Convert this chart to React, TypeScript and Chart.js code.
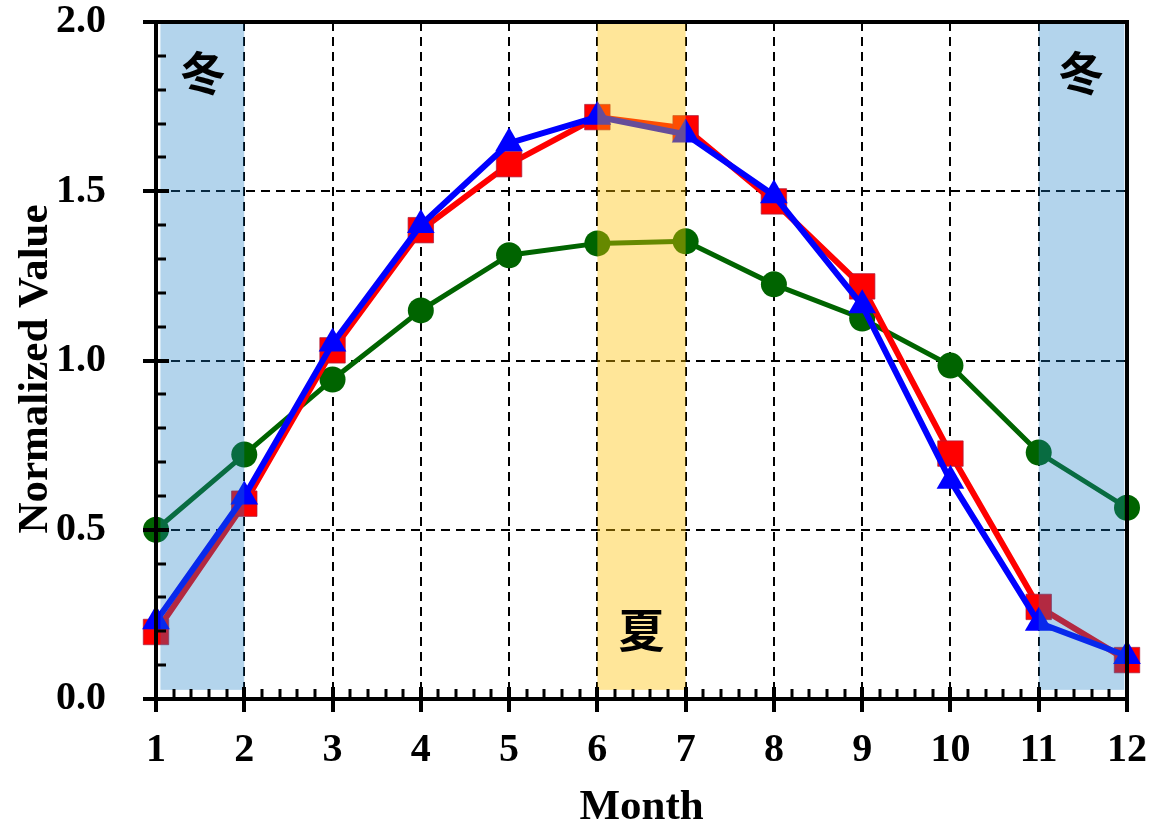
import React, { useEffect, useRef } from "react";
import { Chart, registerables } from "chart.js";

Chart.register(...registerables);

// Months on the x axis
const months: number[] = [1, 2, 3, 4, 5, 6, 7, 8, 9, 10, 11, 12];

// Normalized monthly values for the three series
const seriesRed: number[] = [0.198, 0.577, 1.03, 1.385, 1.58, 1.719, 1.686, 1.47, 1.219, 0.725, 0.272, 0.115];
const seriesBlue: number[] = [0.23, 0.598, 1.05, 1.4, 1.642, 1.72, 1.668, 1.488, 1.163, 0.645, 0.225, 0.127];
const seriesGreen: number[] = [0.5, 0.722, 0.944, 1.148, 1.311, 1.346, 1.352, 1.225, 1.124, 0.985, 0.728, 0.565];

// Axis ticks
const yTicks: number[] = [0, 0.5, 1.0, 1.5, 2.0];

// Seasonal bands
const seasonLabels: string[] = ["冬", "夏", "冬"];
const seasonStart: number[] = [1.05, 6, 11];
const seasonEnd: number[] = [2, 7, 11.97];
const seasonLabelX: number[] = [1.53, 6.5, 11.48];
const seasonLabelY: number[] = [1.852, 0.204, 1.852];
const seasonFill: string[] = ["rgba(24,123,197,0.33)", "rgba(255,192,0,0.4)", "rgba(24,123,197,0.33)"];

const xTitle = "Month";
const yTitle = "Normalized Value";

const serif = "'Liberation Serif', 'Times New Roman', serif";
const cjk = "'Noto Sans CJK SC', 'Noto Sans CJK JP', sans-serif";

const zeroPad = (s: any) => {
  s.paddingTop = 0;
  s.paddingBottom = 0;
  s.paddingLeft = 0;
  s.paddingRight = 0;
};

const framePlugin = {
  id: "frameAndBands",
  beforeDatasetsDraw(chart: any) {
    const { ctx, chartArea: a, scales } = chart;
    const xs = scales.x;
    const ys = scales.y;
    ctx.save();
    ctx.strokeStyle = "#000";
    ctx.lineWidth = 2;
    ctx.setLineDash([9, 6]);
    for (const m of months) {
      if (m === months[0] || m === months[months.length - 1]) continue;
      const px = Math.round(xs.getPixelForValue(m));
      ctx.beginPath();
      ctx.moveTo(px, a.top);
      ctx.lineTo(px, a.bottom);
      ctx.stroke();
    }
    for (const v of yTicks) {
      if (v === yTicks[0] || v === yTicks[yTicks.length - 1]) continue;
      const py = Math.round(ys.getPixelForValue(v));
      ctx.beginPath();
      ctx.moveTo(a.left, py);
      ctx.lineTo(a.right, py);
      ctx.stroke();
    }
    ctx.restore();
  },
  afterDatasetsDraw(chart: any) {
    const { ctx, chartArea: a, scales } = chart;
    const xs = scales.x;
    const ys = scales.y;
    ctx.save();
    // translucent season bands over the lines
    const yLow = ys.getPixelForValue(0.027);
    for (let i = 0; i < seasonLabels.length; i++) {
      const x0 = xs.getPixelForValue(seasonStart[i]);
      const x1 = xs.getPixelForValue(seasonEnd[i]);
      ctx.fillStyle = seasonFill[i];
      ctx.fillRect(x0, a.top, x1 - x0, yLow - a.top);
    }
    ctx.fillStyle = "#000";
    ctx.font = `bold 46px ${cjk}`;
    ctx.textAlign = "center";
    ctx.textBaseline = "middle";
    for (let i = 0; i < seasonLabels.length; i++) {
      ctx.fillText(seasonLabels[i], xs.getPixelForValue(seasonLabelX[i]), ys.getPixelForValue(seasonLabelY[i]));
    }

    // frame
    ctx.strokeStyle = "#000";
    ctx.lineWidth = 4;
    ctx.lineCap = "square";
    ctx.strokeRect(a.left, a.top, a.right - a.left, a.bottom - a.top);
    ctx.lineCap = "butt";

    // y ticks: minor inward, major across
    for (let k = 0; k <= 20; k++) {
      const v = k / 10;
      const py = Math.round(ys.getPixelForValue(v));
      const major = k % 5 === 0;
      ctx.lineWidth = major ? 4 : 3;
      ctx.beginPath();
      if (major) {
        ctx.moveTo(a.left - 13, py);
        ctx.lineTo(a.left + 13, py);
      } else {
        ctx.moveTo(a.left, py);
        ctx.lineTo(a.left + 10, py);
      }
      ctx.stroke();
    }
    // x ticks: minor every 0.2 month inward, major across
    for (let k = 0; k <= 55; k++) {
      const v = 1 + k / 5;
      const px = Math.round(xs.getPixelForValue(v));
      const major = k % 5 === 0;
      ctx.lineWidth = major ? 4 : 3;
      ctx.beginPath();
      if (major) {
        ctx.moveTo(px, a.bottom - 12);
        ctx.lineTo(px, a.bottom + 13);
      } else {
        ctx.moveTo(px, a.bottom);
        ctx.lineTo(px, a.bottom - 10);
      }
      ctx.stroke();
    }

    // axis titles
    ctx.fillStyle = "#000";
    ctx.font = `bold 43px ${serif}`;
    ctx.textAlign = "center";
    ctx.textBaseline = "alphabetic";
    ctx.fillText(xTitle, (a.left + a.right) / 2, 819);
    ctx.translate(47, 369);
    ctx.rotate(-Math.PI / 2);
    ctx.fillText(yTitle, 0, 0);
    ctx.restore();
  },
};

export default function App() {
  const ref = useRef<HTMLCanvasElement | null>(null);

  useEffect(() => {
    if (!ref.current) return;
    const pts = (vals: number[]) => months.map((m, i) => ({ x: m, y: vals[i] }));
    // Chart.js paints the first dataset last, so blue sits on top and green at the bottom
    const chart = new Chart(ref.current, {
      type: "line",
      data: {
        datasets: [
          {
            label: "Blue",
            data: pts(seriesBlue),
            borderColor: "#0000ff",
            backgroundColor: "#0000ff",
            borderWidth: 6,
            pointStyle: "triangle",
            pointRadius: 16,
            pointBorderWidth: 0,
            pointBackgroundColor: "#0000ff",
            clip: false,
          },
          {
            label: "Red",
            data: pts(seriesRed),
            borderColor: "#ff0000",
            backgroundColor: "#ff0000",
            borderWidth: 6,
            pointStyle: "rect",
            pointRadius: 18,
            pointBorderWidth: 1,
            pointBorderColor: "rgba(170,30,60,0.7)",
            pointBackgroundColor: "#ff0000",
            clip: false,
          },
          {
            label: "Green",
            data: pts(seriesGreen),
            borderColor: "#006400",
            backgroundColor: "#006400",
            borderWidth: 5,
            pointStyle: "circle",
            pointRadius: 13,
            pointBorderWidth: 0,
            pointBackgroundColor: "#006400",
            clip: false,
          },
        ],
      },
      options: {
        animation: false,
        responsive: true,
        maintainAspectRatio: false,
        layout: { autoPadding: false, padding: { top: 22, right: 22, left: 0, bottom: 0 } },
        plugins: {
          legend: { display: false },
          tooltip: { enabled: false },
        },
        scales: {
          x: {
            type: "linear",
            min: 1,
            max: 12,
            afterFit: (s: any) => {
              s.height = 123;
              zeroPad(s);
            },
            grid: { display: false, drawTicks: false },
            border: { display: false },
            ticks: {
              stepSize: 1,
              padding: 28,
              maxRotation: 0,
              color: "#000",
              font: { family: serif, size: 40, weight: "bold" },
              callback: (v: any) => String(v),
            },
          },
          y: {
            type: "linear",
            min: 0,
            max: 2,
            afterFit: (s: any) => {
              s.width = 156;
              zeroPad(s);
            },
            grid: { display: false, drawTicks: false },
            border: { display: false },
            ticks: {
              stepSize: 0.5,
              padding: 50,
              color: "#000",
              font: { family: serif, size: 40, weight: "bold" },
              callback: (v: any) => Number(v).toFixed(1),
            },
          },
        },
      },
      plugins: [framePlugin],
    });
    return () => chart.destroy();
  }, []);

  return (
    <div style={{ position: "fixed", left: 0, top: 0, width: 1149, height: 822, background: "#fff" }}>
      <canvas ref={ref} />
    </div>
  );
}
